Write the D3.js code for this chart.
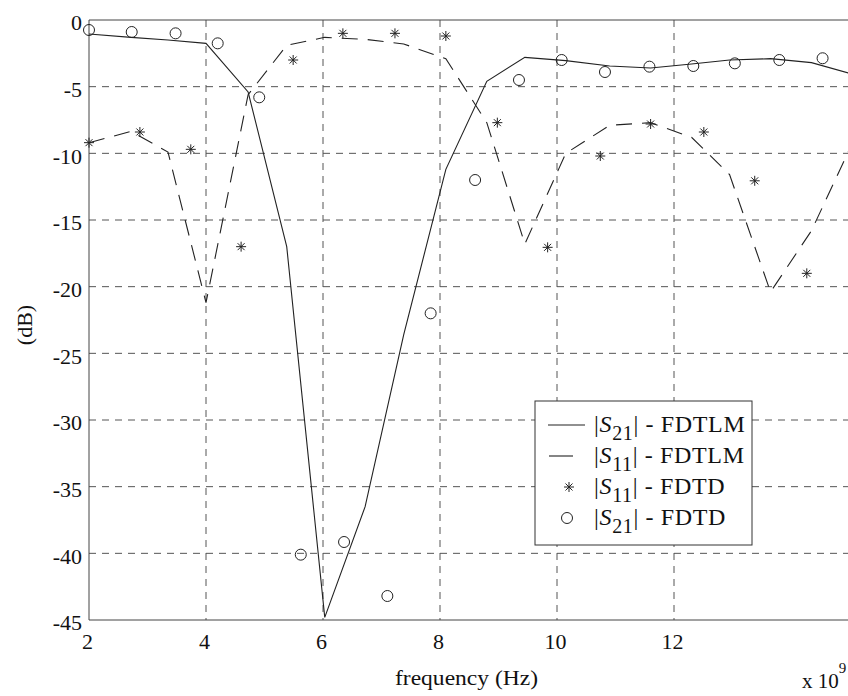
<!DOCTYPE html>
<html><head><meta charset="utf-8">
<script src="https://cdn.jsdelivr.net/npm/d3@7"></script>
<style>body{margin:0;background:#fff}svg{display:block}</style>
</head><body><svg id="c" width="848" height="696"></svg>
<script>
// FDTLM sample frequencies (GHz) and values (dB)
const fdtlmFreq = [2.0, 2.72, 3.35, 4.0, 4.72, 5.38, 6.03, 6.72, 7.38, 8.1, 8.8, 9.45, 10.15, 10.9, 11.6, 12.3, 12.95, 13.65, 14.35, 15.0];
const s21FDTLM  = [-1.05, -1.3, -1.5, -1.75, -5.4, -17.0, -44.8, -36.5, -23.6, -11.2, -4.6, -2.8, -3.05, -3.45, -3.6, -3.3, -3.0, -2.9, -3.2, -4.0];
const s11FDTLM  = [-9.2, -8.35, -9.9, -21.2, -5.6, -1.9, -1.3, -1.45, -1.8, -2.9, -7.7, -16.8, -10.0, -7.9, -7.7, -8.8, -11.6, -20.4, -15.8, -9.7];
// FDTD points
const s11FDTDFreq = [2.0, 2.87, 3.74, 4.6, 5.49, 6.34, 7.23, 8.1, 8.98, 9.84, 10.74, 11.6, 12.51, 13.38, 14.27];
const s11FDTD     = [-9.2, -8.4, -9.7, -17.0, -3.0, -1.0, -1.0, -1.2, -7.7, -17.05, -10.2, -7.8, -8.4, -12.06, -19.0];
const s21FDTDFreq = [2.0, 2.73, 3.48, 4.2, 4.91, 5.62, 6.36, 7.1, 7.84, 8.6, 9.35, 10.08, 10.82, 11.58, 12.33, 13.04, 13.8, 14.54];
const s21FDTD     = [-0.75, -0.9, -1.0, -1.75, -5.8, -40.1, -39.15, -43.2, -22.0, -12.0, -4.5, -3.0, -3.9, -3.5, -3.45, -3.25, -3.0, -2.87];
const xTicks = [2, 4, 6, 8, 10, 12];
const yTicks = [0, -5, -10, -15, -20, -25, -30, -35, -40, -45];
const legendLabels = [["21", "FDTLM"], ["11", "FDTLM"], ["11", "FDTD"], ["21", "FDTD"]];

const FF = '"Liberation Serif"';
const svg = d3.select("#c");
const L = 89, R = 849.5, T = 20, B = 620;
const x = d3.scaleLinear().domain([2, 15]).range([L, R]);
const y = d3.scaleLinear().domain([-45, 0]).range([B, T]);
const ink = "#222", gridC = "#555";

// grid
const g = svg.append("g");
g.selectAll(".vg").data(xTicks.filter(d => d > 2)).enter().append("line")
  .attr("x1", d => x(d)).attr("x2", d => x(d)).attr("y1", T).attr("y2", B)
  .attr("stroke", gridC).attr("stroke-dasharray", "7,6").attr("stroke-width", 1);
g.selectAll(".hg").data(yTicks.filter(d => d < 0 && d > -45)).enter().append("line")
  .attr("x1", L).attr("x2", 848).attr("y1", d => y(d)).attr("y2", d => y(d))
  .attr("stroke", gridC).attr("stroke-dasharray", "7,6").attr("stroke-width", 1);
// frame
svg.append("path").attr("d", `M848,${T}H${L}V${B}H848`).attr("fill", "none").attr("stroke", "#444").attr("stroke-width", 1);

// axes
const xa = svg.append("g").attr("transform", `translate(0,${B})`)
  .call(d3.axisBottom(x).tickValues(xTicks).tickSize(0).tickPadding(13).tickFormat(d3.format("d")));
xa.attr("font-family", null);
xa.select(".domain").remove();
xa.selectAll("text").style("font-family", FF).attr("font-size", 22).attr("fill", "#111").attr("dx", -2);
const ya = svg.append("g").attr("transform", `translate(${L},0)`)
  .call(d3.axisLeft(y).tickValues(yTicks).tickSize(0).tickPadding(7).tickFormat(d => d === 0 ? "0" : "-" + Math.abs(d)));
ya.attr("font-family", null);
ya.select(".domain").remove();
ya.selectAll("text").style("font-family", FF).attr("font-size", 22).attr("fill", "#111").attr("dy", "0.45em");

svg.append("text").attr("x", 395).attr("y", 685).style("font-family", FF)
  .attr("font-size", 21).attr("textLength", 143).attr("lengthAdjust", "spacingAndGlyphs")
  .attr("fill", "#111").text("frequency (Hz)");
svg.append("text").attr("transform", "translate(32,325) rotate(-90)").attr("text-anchor", "middle").style("font-family", FF)
  .attr("font-size", 22).attr("fill", "#111").text("(dB)");
const xe = svg.append("text").attr("x", 802).attr("y", 688).style("font-family", FF).attr("font-size", 21).attr("fill", "#111");
xe.append("tspan").text("x 10");
xe.append("tspan").attr("dy", -15).attr("font-size", 15).text("9");

// lines
const line = d3.line().x(d => x(d[0])).y(d => y(d[1]));
const d21 = fdtlmFreq.map((f, i) => [f, s21FDTLM[i]]);
const d11 = fdtlmFreq.map((f, i) => [f, s11FDTLM[i]]);
svg.append("path").attr("d", line(d21)).attr("fill", "none").attr("stroke", ink).attr("stroke-width", 1.1);
svg.append("path").attr("d", line(d11)).attr("fill", "none").attr("stroke", ink).attr("stroke-width", 1.1).attr("stroke-dasharray", "16,10");

const s = 5;
const star = `M${-s},0H${s}M0,${-s}V${s}M${-0.7*s},${-0.7*s}L${0.7*s},${0.7*s}M${-0.7*s},${0.7*s}L${0.7*s},${-0.7*s}`;
svg.selectAll(".st").data(s11FDTDFreq.map((f, i) => [f, s11FDTD[i]])).enter().append("path")
  .attr("transform", d => `translate(${x(d[0])},${y(d[1])})`).attr("d", star)
  .attr("stroke", ink).attr("stroke-width", 1).attr("fill", "none");
svg.selectAll(".ci").data(s21FDTDFreq.map((f, i) => [f, s21FDTD[i]])).enter().append("circle")
  .attr("cx", d => x(d[0])).attr("cy", d => y(d[1])).attr("r", 5.5)
  .attr("stroke", ink).attr("stroke-width", 1).attr("fill", "none");

// legend
const lg = svg.append("g");
lg.append("rect").attr("x", 535).attr("y", 401).attr("width", 217).attr("height", 144)
  .attr("fill", "#fff").attr("stroke", "#333").attr("stroke-width", 1);
const ly = [425, 456, 487, 518];
legendLabels.forEach((lab, i) => {
  const yy = ly[i];
  if (i === 0) lg.append("line").attr("x1", 548).attr("x2", 585).attr("y1", yy).attr("y2", yy).attr("stroke", ink).attr("stroke-width", 1.1);
  if (i === 1) lg.append("line").attr("x1", 549).attr("x2", 573).attr("y1", yy).attr("y2", yy).attr("stroke", ink).attr("stroke-width", 1.1);
  if (i === 2) lg.append("path").attr("transform", `translate(569,${yy})`).attr("d", star).attr("stroke", ink).attr("fill", "none");
  if (i === 3) lg.append("circle").attr("cx", 567).attr("cy", yy).attr("r", 5.5).attr("stroke", ink).attr("fill", "none");
  const t = lg.append("text").attr("x", 594).attr("y", yy + 7).style("font-family", FF).style("letter-spacing", "0.65px")
    .attr("font-size", 24).attr("fill", "#111");
  t.append("tspan").text("|");
  t.append("tspan").attr("font-style", "italic").text("S");
  t.append("tspan").attr("dy", 8).attr("font-size", 20).text(lab[0]);
  t.append("tspan").attr("dy", -8).text("| - " + lab[1]);
});
</script></body></html>
